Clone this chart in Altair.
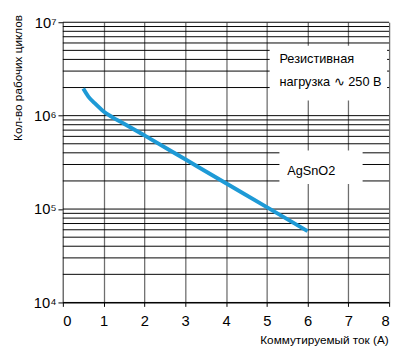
import altair as alt
import pandas as pd

# Curve data
current_a = [0.5, 0.625, 0.78, 1.0, 1.2, 1.5, 2.0, 3.0, 4.0, 5.0, 6.0]
cycles = [1.95e6, 1.6e6, 1.36e6, 1.11e6, 9.7e5, 8.2e5, 6.15e5, 3.41e5, 1.89e5, 1.05e5, 5.8e4]

x_ticks = [0, 1, 2, 3, 4, 5, 6, 7, 8]
decades = [1e4, 1e5, 1e6, 1e7]
minor_lines = [m * d for d in [1e4, 1e5, 1e6] for m in range(2, 10)] + decades

# annotation boxes and texts (data coordinates)
box_x1 = [5.07, 5.31]
box_x2 = [7.95, 7.35]
box_y1 = [5.6e6, 4.23e5]
box_y2 = [1.45e6, 1.86e5]
labels = ["Резистивная", "нагрузка ∿ 250 В", "AgSnO2"]
label_x = [5.31, 5.31, 5.5]
label_y = [4.0e6, 2.29e6, 2.55e5]

curve = pd.DataFrame({"x": current_a, "y": cycles})
hlines = pd.DataFrame({"y": minor_lines})
boxes = pd.DataFrame({"x": box_x1, "x2": box_x2, "y": box_y1, "y2": box_y2})
texts = pd.DataFrame({"x": label_x, "y": label_y, "t": labels})

FONT = "Liberation Sans Narrow, Arial Narrow, Liberation Sans, Arial"

xscale = alt.Scale(domain=[0, 8], nice=False, zero=False)
yscale = alt.Scale(type="log", domain=[1e4, 1e7], nice=False)

xaxis = alt.Axis(
    values=x_ticks, grid=True, gridColor="#6e6e6e", gridWidth=1.3, gridOpacity=1,
    domain=True, domainColor="#000", domainWidth=1.2, tickColor="#000", tickSize=4,
    labelFont="Liberation Sans, Arial", labelFontSize=15, labelColor="#000", labelPadding=8,
    title="Коммутируемый ток (А)", titleFont=FONT, titleFontSize=12, titleFontWeight="normal",
    titleColor="#000", titleAnchor="end", titleX=332, titleY=38, titleAlign="right",
    titleBaseline="middle",
)
yaxis = alt.Axis(
    values=decades, grid=False, domain=True, domainColor="#6e6e6e", domainWidth=1.3,
    tickColor="#000", tickSize=5,
    labelExpr="datum.value == 10000 ? '10⁴' : datum.value == 100000 ? '10⁵' : datum.value == 1000000 ? '10⁶' : '10⁷'",
    labelFont="Liberation Sans, Arial", labelFontSize=15, labelColor="#000", labelPadding=2,
    title="Кол-во рабочих циклов", titleFont=FONT, titleFontSize=12, titleFontWeight="normal",
    titleColor="#000", titleAngle=270, titleX=-46, titleY=-8, titleAlign="right",
    titleBaseline="middle",
)

base_axes = alt.Chart(curve).mark_point(opacity=0).encode(
    x=alt.X("x:Q", scale=xscale, axis=xaxis),
    y=alt.Y("y:Q", scale=yscale, axis=yaxis),
)

grid_h = alt.Chart(hlines).mark_rule(color="#000", strokeWidth=1).encode(
    y=alt.Y("y:Q", scale=yscale)
)

rects = alt.Chart(boxes).mark_rect(color="white", opacity=1).encode(
    x=alt.X("x:Q", scale=xscale), x2="x2:Q",
    y=alt.Y("y:Q", scale=yscale), y2="y2:Q",
)

txt = alt.Chart(texts).mark_text(
    align="left", baseline="middle", font=FONT, fontSize=13, color="#000"
).encode(
    x=alt.X("x:Q", scale=xscale), y=alt.Y("y:Q", scale=yscale), text="t:N"
)

line = alt.Chart(curve).mark_line(color="#1e9ad6", strokeWidth=4, interpolate="monotone").encode(
    x=alt.X("x:Q", scale=xscale), y=alt.Y("y:Q", scale=yscale)
)

chart = alt.layer(base_axes, grid_h, rects, txt, line).properties(
    width=333, height=286,
    autosize=alt.AutoSizeParams(type="none"),
    padding={"left": 56, "top": 11, "right": 6, "bottom": 46},
    background="white",
).configure_view(stroke=None)

chart.save("out.html", embed_options={"renderer": "svg", "actions": False})
